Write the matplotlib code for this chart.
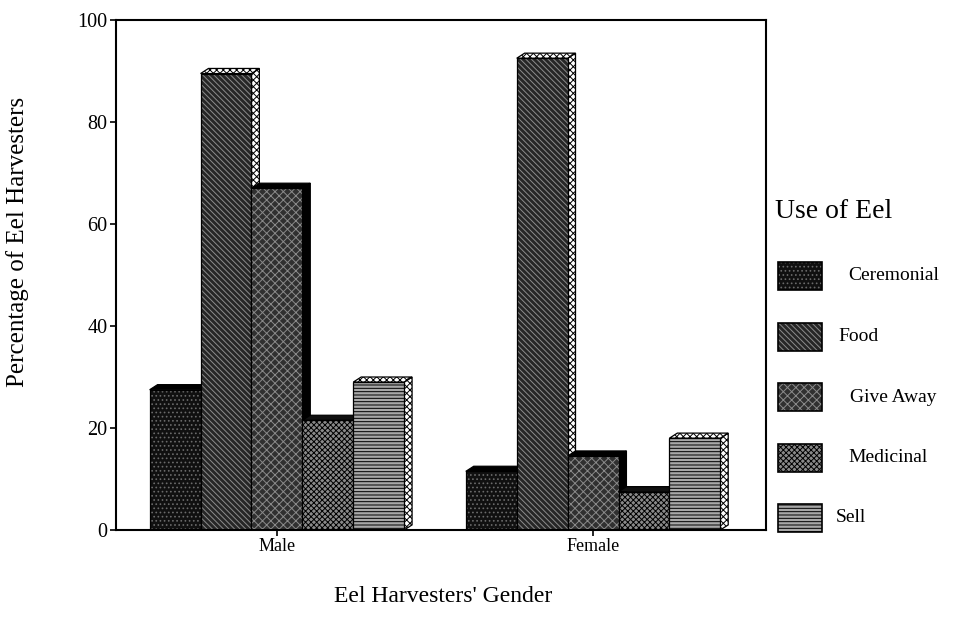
import matplotlib.pyplot as plt
from matplotlib.patches import Rectangle, Polygon

# data
genders = ["Male", "Female"]
uses = ["Ceremonial", "Food", "Give Away", "Medicinal", "Sell"]
male = [27.5, 89.5, 67, 21.5, 29]
female = [11.5, 92.5, 14.5, 7.5, 18]
yticks = [0, 20, 40, 60, 80, 100]

# front colour, hatch colour, hatch, side colour, side hatch colour, side hatch
styles = [
    ("#101010", "#6a6a6a", "....", "#000000", "#000000", None),
    ("#262626", "#8c8c8c", "\\\\\\\\\\\\", "#ffffff", "#000000", "xxxxx"),
    ("#303030", "#8a8a8a", "xxxx", "#000000", "#000000", None),
    ("#8a8a8a", "#000000", "xxxxxx", "#101010", "#101010", None),
    ("#a8a8a8", "#000000", "-----", "#ffffff", "#000000", "xxxxx"),
]
legend_x = [848, 838, 850, 848, 836]  # label left edges in pixels

plt.rcParams['font.family'] = ['Liberation Serif', 'DejaVu Serif']
plt.rcParams['hatch.linewidth'] = 0.7

fig = plt.figure(figsize=(9.58, 6.39), dpi=100)
ax = fig.add_axes([116 / 958, 109 / 639, 650 / 958, 510 / 639])

w = 0.161   # bar width
dx = 0.025  # depth offset in x
dy = 1.0    # depth offset in y


def draw_bar(x0, h, st):
    face, hc, hatch, side, shc, shatch = st
    # side and top faces
    side_pts = [(x0 + w, 0), (x0 + w + dx, dy), (x0 + w + dx, h + dy), (x0 + w, h)]
    top_pts = [(x0, h), (x0 + dx, h + dy), (x0 + w + dx, h + dy), (x0 + w, h)]
    for pts in (side_pts, top_pts):
        ax.add_patch(Polygon(pts, closed=True, facecolor=side, edgecolor=shc,
                             hatch=shatch, linewidth=0))
        ax.add_patch(Polygon(pts, closed=True, facecolor="none", edgecolor="black",
                             linewidth=0.9))
    # front face
    ax.add_patch(Rectangle((x0, 0), w, h, facecolor=face, edgecolor=hc,
                           hatch=hatch, linewidth=0))
    ax.add_patch(Rectangle((x0, 0), w, h, facecolor="none", edgecolor="black",
                           linewidth=0.9))


for g, vals in enumerate([male, female]):
    for i, v in enumerate(vals):
        x0 = g + (i - 2.5) * w
        draw_bar(x0, v, styles[i])

ax.set_xlim(-0.509, 1.547)
ax.set_ylim(0, 100)
ax.set_xticks(range(len(genders)))
ax.set_xticklabels(genders, fontsize=13)
ax.set_yticks(yticks)
ax.set_yticklabels([str(t) for t in yticks], fontsize=14.5)
ax.tick_params(direction='out', length=4, width=1.2, pad=2)
for s in ax.spines.values():
    s.set_linewidth(1.5)

fig.text(18 / 958, 1 - 242 / 639, "Percentage of Eel Harvesters",
         rotation=90, ha='center', va='center', fontsize=18)
fig.text(443 / 958, 1 - 596 / 639, "Eel Harvesters' Gender",
         ha='center', va='center', fontsize=17)

# legend drawn by hand on the right
fig.text(775 / 958, 1 - 211 / 639, "Use of Eel", ha='left', va='center', fontsize=20)
for i, u in enumerate(uses):
    face, hc, hatch = styles[i][:3]
    yc = 276 + 60.5 * i
    r = Rectangle((778 / 958, 1 - (yc + 14) / 639), 44 / 958, 28 / 639,
                  transform=fig.transFigure, facecolor=face, edgecolor=hc,
                  hatch=hatch, linewidth=0)
    fig.add_artist(r)
    fig.add_artist(Rectangle((778 / 958, 1 - (yc + 14) / 639), 44 / 958, 28 / 639,
                             transform=fig.transFigure, facecolor="none",
                             edgecolor="black", linewidth=1.2))
    fig.text(legend_x[i] / 958, 1 - yc / 639, u, ha='left', va='center', fontsize=14)

fig.savefig("out.png", dpi=100)
